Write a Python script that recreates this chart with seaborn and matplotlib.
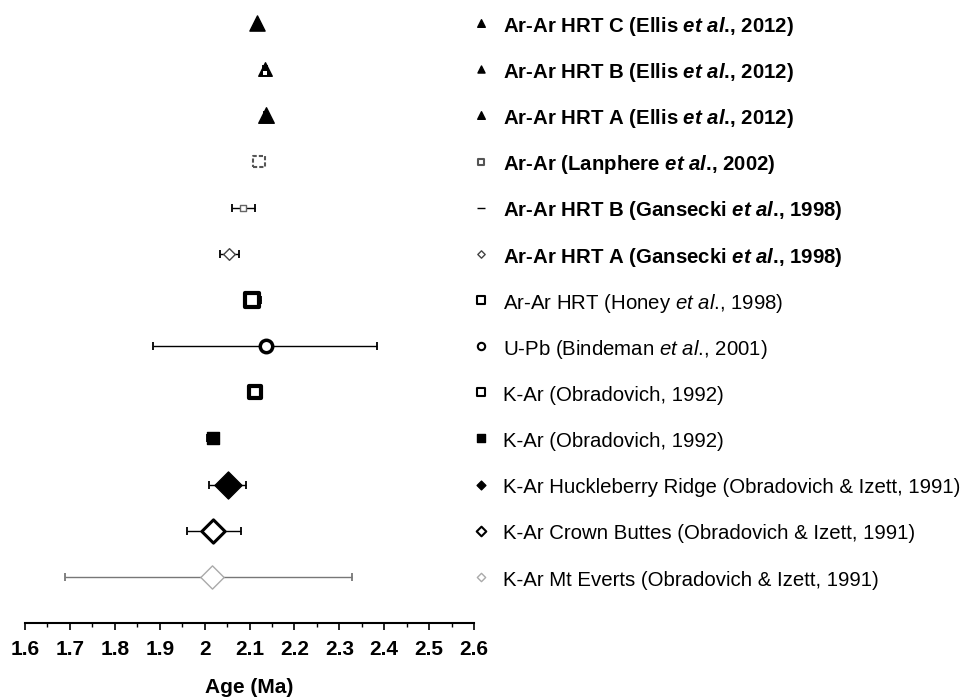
import numpy as np
import matplotlib
matplotlib.use('Agg')
import matplotlib.pyplot as plt
import seaborn as sb

sb.set_style('white')
plt.rcParams['font.family'] = ['Liberation Sans', 'DejaVu Sans']
plt.rcParams['text.color'] = 'black'
plt.rcParams['axes.labelcolor'] = 'black'
plt.rcParams['xtick.color'] = 'black'
plt.rcParams['mathtext.fontset'] = 'custom'
plt.rcParams['mathtext.rm'] = 'Liberation Sans'
plt.rcParams['mathtext.it'] = 'Liberation Sans:italic'
plt.rcParams['mathtext.bf'] = 'Liberation Sans:bold'
plt.rcParams['mathtext.bfit'] = 'Liberation Sans:bold:italic'

# data, top to bottom
labels = [
    r'Ar-Ar HRT C (Ellis $\mathbfit{et\ al}$., 2012)',
    r'Ar-Ar HRT B (Ellis $\mathbfit{et\ al}$., 2012)',
    r'Ar-Ar HRT A (Ellis $\mathbfit{et\ al}$., 2012)',
    r'Ar-Ar (Lanphere $\mathbfit{et\ al}$., 2002)',
    r'Ar-Ar HRT B (Gansecki $\mathbfit{et\ al}$., 1998)',
    r'Ar-Ar HRT A (Gansecki $\mathbfit{et\ al}$., 1998)',
    r'Ar-Ar HRT (Honey $\mathit{et\ al}$., 1998)',
    r'U-Pb (Bindeman $\mathit{et\ al}$., 2001)',
    'K-Ar (Obradovich, 1992)',
    'K-Ar (Obradovich, 1992)',
    'K-Ar Huckleberry Ridge (Obradovich & Izett, 1991)',
    'K-Ar Crown Buttes (Obradovich & Izett, 1991)',
    'K-Ar Mt Everts (Obradovich & Izett, 1991)',
]
bold = [True] * 6 + [False] * 7
age = [2.117, 2.135, 2.136, 2.121, 2.086, 2.055, 2.105, 2.136, 2.112, 2.019, 2.052, 2.019, 2.017]
err_lo = [0.003, 0.004, 0.004, 0.005, 0.025, 0.021, 0.017, 0.25, 0.012, 0.013, 0.042, 0.058, 0.328]
err_hi = [0.003, 0.004, 0.004, 0.005, 0.026, 0.022, 0.021, 0.248, 0.012, 0.010, 0.040, 0.062, 0.311]

# marker style per row: marker, size, face, edge, linewidth
styles = [
    ('^', 120, 'black', 'black', 1.0),
    ('^', 95, 'black', 'black', 1.0),
    ('^', 125, 'black', 'black', 1.0),
    ('s', 65, 'white', '#555555', 1.5),
    ('s', 16, 'white', '#666666', 1.0),
    ('D', 35, 'white', '#444444', 1.0),
    ('s', 100, 'white', 'black', 3.0),
    ('o', 80, 'white', 'black', 2.5),
    ('s', 85, 'white', 'black', 3.0),
    ('s', 85, 'black', 'black', 1.0),
    ('D', 190, 'black', 'black', 1.0),
    ('D', 140, 'white', 'black', 2.2),
    ('D', 140, 'white', '#aaaaaa', 1.0),
]
leg_markers = ['^', '^', '^', 's', '_', 'D', 's', 'o', 's', 's', 'D', 'D', 'D']
leg_sizes = [30, 26, 30, 22, 30, 14, 32, 28, 32, 40, 20, 24, 18]

rows = np.arange(len(labels))

fig = plt.figure(figsize=(9.65, 6.97), dpi=100)
ax = fig.add_axes([25 / 965, 74 / 697, 449 / 965, 623 / 697])

# error bars
for i in rows:
    c = '#777777' if i == 12 else 'black'
    ls = (0, (4, 1)) if i in (11, 12) else '-'
    ax.errorbar(age[i], i, xerr=[[err_lo[i]], [err_hi[i]]], fmt='none',
                ecolor=c, elinewidth=1.0, capsize=3, capthick=1.3, linestyle=ls, zorder=1)

# points
for i in rows:
    m, s, fc, ec, lw = styles[i]
    sb.scatterplot(x=[age[i]], y=[i], marker=m, s=s, color=fc, edgecolor=ec,
                   linewidth=lw, linestyle=(0, (2, 1)) if i == 3 else '-', ax=ax, zorder=3)
    if i == 1:
        sb.scatterplot(x=[age[i]], y=[i + 0.08], marker='s', s=10, color='white',
                       edgecolor='white', linewidth=0, ax=ax, zorder=4)

# legend-like labels on the right
for i in rows:
    m, s, fc, ec, lw = styles[i]
    ax.scatter(1.0156, i, marker=leg_markers[i], s=leg_sizes[i],
               facecolor='black' if i == 4 else fc,
               edgecolor='black' if i == 4 else ec,
               linewidth=min(lw, 1.5), transform=ax.get_yaxis_transform(),
               clip_on=False, zorder=3)
    ax.text(1.0646, i + 0.07, labels[i], transform=ax.get_yaxis_transform(),
            va='center', ha='left', fontsize=14.7,
            fontweight='bold' if bold[i] else 'normal')

ax.set_xlim(1.6, 2.6)
ax.set_ylim(13, -0.5)
ax.set_yticks([])
xt = np.round(np.arange(1.6, 2.61, 0.1), 1)
ax.set_xticks(xt)
ax.set_xticklabels(['2' if v == 2.0 else f'{v:g}' for v in xt], fontsize=15, fontweight='bold')
ax.set_xticks(np.arange(1.65, 2.6, 0.1), minor=True)
ax.tick_params(axis='x', which='major', direction='out', length=5, width=1.2, bottom=True, pad=7)
ax.tick_params(axis='x', which='minor', direction='out', length=3, width=1.0, bottom=True)
for sp in ['top', 'left', 'right']:
    ax.spines[sp].set_visible(False)
ax.spines['bottom'].set_linewidth(1.5)
ax.spines['bottom'].set_color('black')
ax.set_xlabel('Age (Ma)', fontsize=15, fontweight='bold', labelpad=14)
ax.set_ylabel('')

fig.savefig('out.png', dpi=100)
